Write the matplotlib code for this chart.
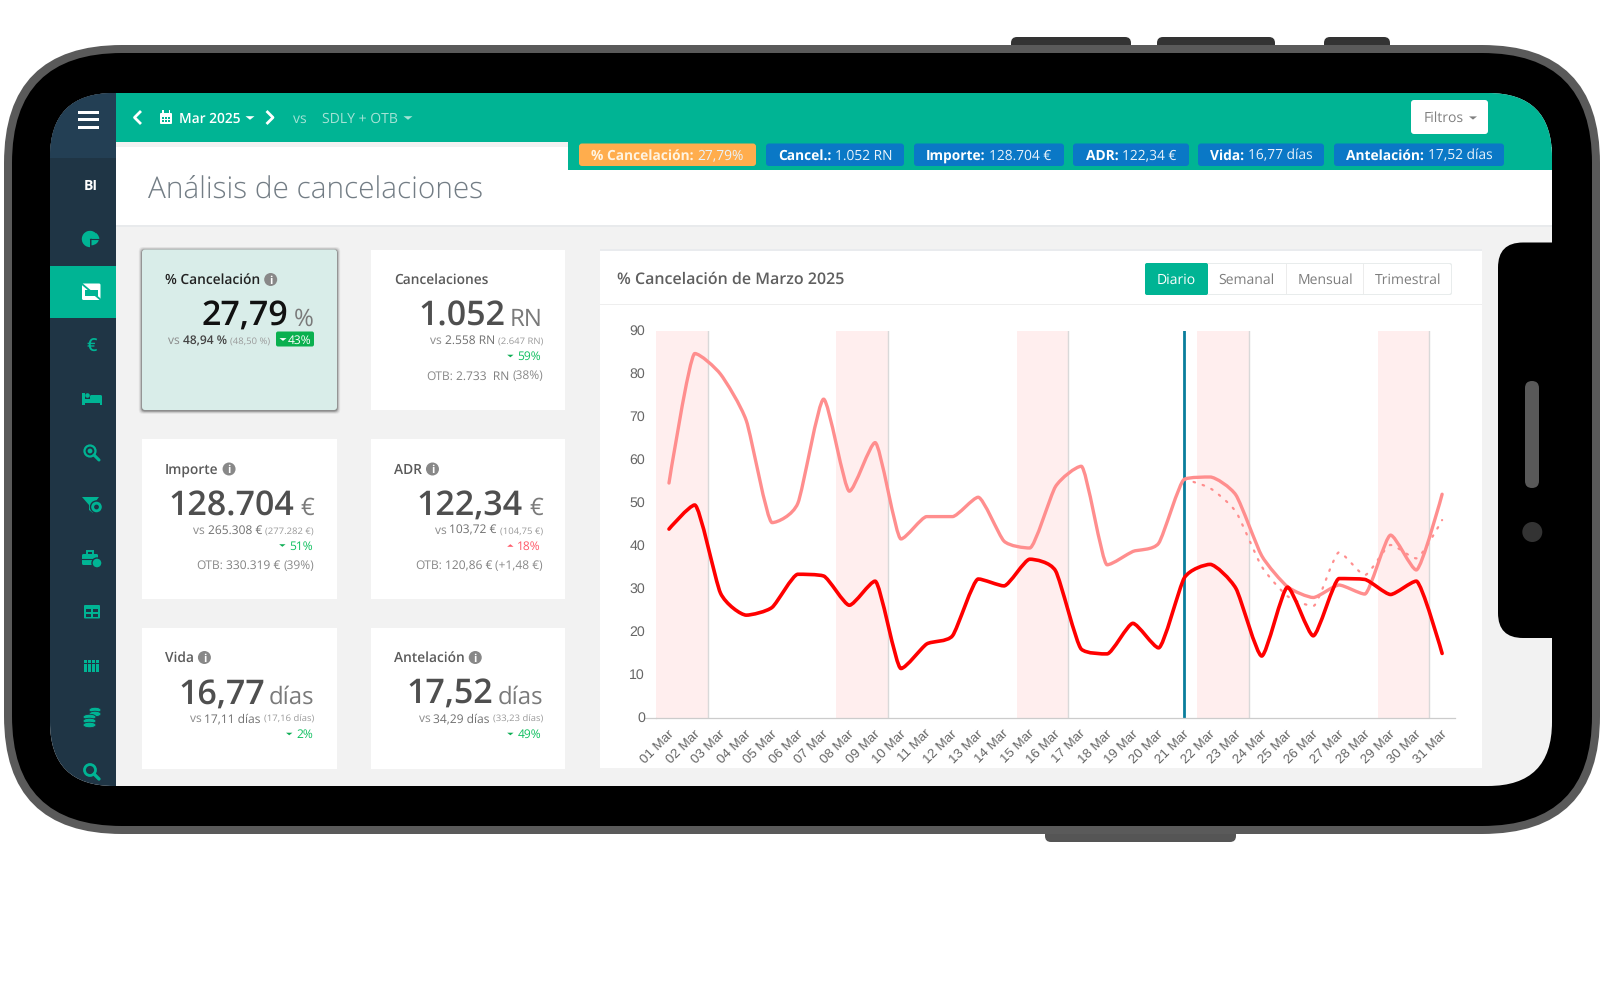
#!/usr/bin/env python3

"""
Phone mockup of the cancellations dashboard with the daily % chart
"""

import matplotlib
matplotlib.use("Agg")
import matplotlib.pyplot as plt
from matplotlib.patches import FancyBboxPatch, Rectangle, Circle, Polygon, Wedge, Ellipse, PathPatch
from matplotlib.path import Path
from matplotlib.transforms import ScaledTranslation

# Chart data
days = ["%02d Mar" % d for d in range(1, 32)]
cancel_actual = [43.9, 49.5, 29.0, 23.9, 25.7, 33.4, 33.0, 26.2, 31.8, 11.5, 17.2, 19.1, 32.3, 30.7, 36.9, 34.2,
                 16.0, 14.9, 22.0, 16.3, 32.6, 35.7, 30.1, 14.4, 30.4, 19.1, 32.4, 32.2, 28.7, 31.8, 15.0]
cancel_sdly = [54.6, 84.7, 79.9, 69.1, 45.4, 49.9, 74.1, 52.7, 64.0, 41.6, 46.8, 46.8, 51.3, 41.1, 39.5, 53.8,
               58.5, 35.6, 38.7, 40.6, 55.5, 56.0, 51.8, 37.7, 30.5, 28.0, 30.9, 28.8, 42.5, 34.4, 52.0]
otb_start = 20
cancel_otb = [55.5, 53.4, 47.9, 35.2, 28.3, 26.0, 38.5, 33.2, 40.2, 37.1, 46.0]
weekends = [(0, 1), (7, 8), (14, 15), (21, 22), (28, 29)]
today_idx = 20
yticks = [0, 10, 20, 30, 40, 50, 60, 70, 80, 90]

# KPI cards
card_titles = ["% Cancelación", "Cancelaciones", "Importe", "ADR", "Vida", "Antelación"]
card_values = ["27,79", "1.052", "128.704", "122,34", "16,77", "17,52"]
card_units = ["%", "RN", "€", "€", "días", "días"]
card_vs = ["48,94 %", "2.558 RN", "265.308 €", "103,72 €", "17,11 días", "34,29 días"]
card_prev = ["(48,50 %)", "(2.647 RN)", "(277.282 €)", "(104,75 €)", "(17,16 días)", "(33,23 días)"]
card_pct = ["43%", "59%", "51%", "18%", "2%", "49%"]
card_otb = [None, ("2.733  RN", "(38%)"), ("330.319 €", "(39%)"), ("120,86 €", "(+1,48 €)"), None, None]

# Top pills
pill_heads = ["% Cancelación:", "Cancel.:", "Importe:", "ADR:", "Vida:", "Antelación:"]
pill_vals = [" 27,79%", " 1.052 RN", " 128.704 €", " 122,34 €", " 16,77 días", " 17,52 días"]
toggle_labels = ["Diario", "Semanal", "Mensual", "Trimestral"]

GREEN = "#00b494"
DARK = "#1f3545"
GREY_BG = "#f2f2f2"
UP_RED = "#ff5a6a"
DOWN_GREEN = "#10c060"
FONT = "Open Sans"

plt.rcParams["font.family"] = [FONT, "DejaVu Sans"]
plt.rcParams["text.hinting"] = "no_hinting"

fig = plt.figure(figsize=(16, 9.97), dpi=100)
ax = fig.add_axes([0, 0, 1, 1])
ax.set_xlim(0, 1600)
ax.set_ylim(997, 0)
ax.axis("off")
renderer = fig.canvas.get_renderer()


def box(x0, y0, x1, y1, color, radius=0, zorder=2, clip=None, **kw):
    if radius:
        p = FancyBboxPatch((x0, y0), x1 - x0, y1 - y0, boxstyle="round,pad=0,rounding_size=%g" % radius,
                           fc=color, ec="none", zorder=zorder, **kw)
    else:
        p = Rectangle((x0, y0), x1 - x0, y1 - y0, fc=color, ec="none", zorder=zorder, **kw)
    ax.add_patch(p)
    if clip is not None:
        p.set_clip_path(clip)
    return p


def label(x, y, s, color="#555555", size=13, weight="normal", ha="left", va="baseline", zorder=6, **kw):
    # size is given in pixels
    return ax.text(x, y, s, color=color, fontsize=size * 0.72, fontweight=weight, ha=ha, va=va,
                   zorder=zorder, **kw)


def runs_right(x, y, runs):
    for s, color, size, weight in reversed(runs):
        t = label(x, y, s, color, size, weight, ha="right")
        x -= t.get_window_extent(renderer).width + 3


def runs_left(x, y, runs):
    for s, color, size, weight in runs:
        t = label(x, y, s.strip(), color, size, weight)
        x += t.get_window_extent(renderer).width + size * 0.27


def caret(x, y, color, w=4, up=False, zorder=7):
    h = w * 0.8 * (-1 if up else 1)
    ax.add_patch(Polygon([(x - w, y - h / 2), (x + w, y - h / 2), (x, y + h / 2)], fc=color, ec="none", zorder=zorder))


def spline_path(x, y, s=4.0):
    # nearly straight segments with softened corners, as in the dashboard chart
    verts = [(x[0], y[0])]
    codes = [Path.MOVETO]
    conts = []
    n = len(x)
    for i in range(n):
        if i == 0 or i == n - 1:
            conts.append((x[i], y[i], x[i], y[i]))
            continue
        lx = (s * x[i] + x[i - 1]) / (s + 1)
        ly = (s * y[i] + y[i - 1]) / (s + 1)
        rx = (s * x[i] + x[i + 1]) / (s + 1)
        ry = (s * y[i] + y[i + 1]) / (s + 1)
        corr = (ry - ly) * (rx - x[i]) / (rx - lx) + y[i] - ry
        ly += corr
        ry += corr
        hi = max(y[i - 1], y[i])
        lo = min(y[i - 1], y[i])
        if ly > hi:
            ly = hi
            ry = 2 * y[i] - ly
        elif ly < lo:
            ly = lo
            ry = 2 * y[i] - ly
        hi = max(y[i + 1], y[i])
        lo = min(y[i + 1], y[i])
        if ry > hi:
            ry = hi
            ly = 2 * y[i] - ry
        elif ry < lo:
            ry = lo
            ly = 2 * y[i] - ry
        conts.append((lx, ly, rx, ry))
    for i in range(1, n):
        verts += [(conts[i - 1][2], conts[i - 1][3]), (conts[i][0], conts[i][1]), (x[i], y[i])]
        codes += [Path.CURVE4] * 3
    return Path(verts, codes)


# Phone body
for bx0, bx1 in [(1011, 1131), (1157, 1275), (1324, 1390)]:
    box(bx0, 37, bx1, 55, "#333333", radius=6, zorder=0)
box(1045, 820, 1236, 842, "#555555", radius=6, zorder=0)
box(4, 45, 1600, 834, "#5a5a5a", radius=118, zorder=1)
box(12, 53, 1592, 826, "#000000", radius=110, zorder=1)

# Screen
screen = box(50, 93, 1552, 786, GREY_BG, radius=64, zorder=2)
box(116, 147, 1552, 226, "#ffffff", zorder=2.1, clip=screen)
box(116, 225, 1552, 226.5, "#e8eaec", zorder=2.2, clip=screen)

# Sidebar
box(50, 93, 116, 786, DARK, zorder=2.5, clip=screen)
box(50, 93, 116, 158, "#233f54", zorder=2.6, clip=screen)
box(50, 266, 116, 318, GREEN, zorder=2.7, clip=screen)
for yy in (112.3, 120, 127.7):
    box(78, yy - 1.5, 99, yy + 1.5, "#ffffff", zorder=5)
label(91, 190.5, "BI", "#ffffff", 14, "bold", ha="center")

ic = GREEN
# pie, three slices with thin gaps
ax.add_patch(Wedge((90, 239), 8.2, 90, 345, fc=ic, ec="none", zorder=5))
ax.add_patch(Wedge((91.5, 237.5), 7.8, 0, 90, fc=ic, ec="none", zorder=5))
ax.add_patch(Wedge((92, 239), 7.2, 305, 358, fc=ic, ec="none", zorder=5))
ax.plot([90, 98.5], [239, 239], color=DARK, lw=0.8, zorder=5.1)
# inbox (active)
box(82, 283.5, 100.5, 300, "#ffffff", radius=1.5, zorder=5)
box(85, 290, 97.5, 295.5, GREEN, zorder=5.1)
ax.plot([82, 101], [284, 300], color=GREEN, lw=1.3, zorder=5.2)
# euro
label(91.5, 351.5, "€", ic, 18, "semibold", ha="center")
# bed
box(82, 392.5, 85, 405, ic, zorder=5)
box(82, 399, 102, 403, ic, zorder=5)
box(90, 395, 102, 400, ic, radius=1.5, zorder=5)
box(99.5, 399, 102, 405, ic, zorder=5)
ax.add_patch(Circle((87.5, 395.5), 2.3, fc=ic, ec="none", zorder=5))
# search with coin
ax.add_patch(Circle((90, 451), 5.5, fc="none", ec=ic, lw=1.6, zorder=5))
ax.add_patch(Circle((90, 451), 2.4, fc=ic, ec="none", zorder=5))
ax.plot([94, 99], [455, 460], color=ic, lw=2.2, zorder=5, solid_capstyle="round")
# funnel with coin
ax.add_patch(Polygon([(82, 497), (99, 497), (93, 505), (93, 513), (89, 510), (89, 505)], fc=ic, ec="none", zorder=5))
ax.add_patch(Circle((96.5, 507), 6, fc=ic, ec=DARK, lw=1, zorder=5.1))
ax.add_patch(Circle((96.5, 507), 2.4, fc=DARK, ec="none", zorder=5.2))
# briefcase with clock
box(82, 554, 98, 565, ic, radius=1.5, zorder=5)
ax.add_patch(Rectangle((87, 551), 6, 3.5, fc="none", ec=ic, lw=1.4, zorder=5))
ax.plot([82, 98], [558.5, 558.5], color=DARK, lw=0.8, zorder=5.1)
ax.add_patch(Circle((97, 563), 5, fc=ic, ec=DARK, lw=1, zorder=5.2))
# table
box(84, 605, 100, 618.5, ic, radius=1, zorder=5)
for (tx, ty) in [(86, 608.5), (92.7, 608.5), (86, 613.7), (92.7, 613.7)]:
    box(tx, ty, tx + 5.2, ty + 3, DARK, zorder=5.1)
# grid
for i in range(4):
    for j in range(3):
        box(84 + i * 4, 659.5 + j * 4.4, 84 + i * 4 + 3.2, 659.5 + j * 4.4 + 3.6, ic, zorder=5)
# coins
for (cx, cy, rw) in [(95, 710, 6), (95, 714, 6), (89.5, 717, 6.5), (89.5, 721, 6.5), (89.5, 725, 6.5)]:
    ax.add_patch(Ellipse((cx, cy), rw * 2, 5.5, fc=ic, ec=DARK, lw=0.6, zorder=5))
# search
ax.add_patch(Circle((90, 770), 5.5, fc="none", ec=ic, lw=2, zorder=5, clip_on=True))
ax.plot([94, 99], [774, 779], color=ic, lw=2.4, zorder=5, solid_capstyle="round")

# Header bar
box(116, 93, 1552, 142.5, GREEN, zorder=2.4, clip=screen)
box(568, 142, 1552, 170, GREEN, zorder=2.4, clip=screen)
ax.plot([140, 134.5, 140], [112, 117.5, 123], color="#ffffff", lw=2, zorder=6)
ax.plot([267.5, 273, 267.5], [112, 117.5, 123], color="#ffffff", lw=2, zorder=6)
box(160, 113, 172, 124, "#ffffff", radius=1, zorder=6)
box(162, 110.5, 163.5, 114, "#ffffff", zorder=6)
box(168.5, 110.5, 170, 114, "#ffffff", zorder=6)
for gx in (162, 165.2, 168.4):
    for gy in (117, 120):
        box(gx, gy, gx + 1.8, gy + 1.8, GREEN, zorder=6.1)
label(179, 122.5, "Mar 2025", "#ffffff", 13.7, "semibold")
caret(250, 118, "#ffffff", 4.5)
label(293, 122.5, "vs", "#a5e3d6", 14)
label(322.5, 122.5, "SDLY + OTB", "#a5e3d6", 14)
caret(408, 118, "#a5e3d6", 4.5)
box(1411, 100, 1488, 134, "#ffffff", radius=3, zorder=6)
label(1443.5, 122, "Filtros", "#808080", 14, ha="center", zorder=7)
caret(1473, 118, "#808080", 4)

# Pills
pill_x = [(579, 756), (766, 904), (914, 1064), (1073, 1189), (1198, 1324), (1334, 1504)]
pill_text_x = [591, 778, 926, 1086, 1210, 1346]
for i, (x0, x1) in enumerate(pill_x):
    col = "#ffad4d" if i == 0 else "#0a78c6"
    box(x0, 143.5, x1, 166, col, radius=3, zorder=5)
    tcol = "#fff4e2" if i == 0 else "#ffffff"
    runs_left(pill_text_x[i], 159.5, [(pill_heads[i], tcol, 13.7, "bold"), (pill_vals[i], "#e9f3fb", 13.7, "normal")])

label(148, 199, "Análisis de cancelaciones", "#737d85", 29.8, "light")

# Cards
card_x = [(142, 337), (371, 565)]
card_y = [(249.5, 410), (439, 599), (627.5, 768.5)]
value_right = [288, 505, 294.5, 523, 265, 493]
rows = [0, 0, 1, 1, 2, 2]
for i in range(6):
    x0, x1 = card_x[i % 2]
    y0, y1 = card_y[rows[i]]
    if i == 0:
        for grow, alpha in [(3.2, 0.05), (2.4, 0.08), (1.6, 0.14), (0.8, 0.22)]:
            box(x0 - grow, y0 - grow + 0.7, x1 + grow, y1 + grow + 0.7, "#000000", radius=4, zorder=3, alpha=alpha)
        box(x0, y0, x1, y1, "#d9ede9", radius=3, zorder=3.1)
    else:
        box(x0, y0, x1, y1, "#ffffff", zorder=3)
    active = i == 0
    tcol = "#222222" if active else "#5a5a5a"
    t = label(x0 + 23, y0 + 34.5, card_titles[i], tcol, 13.8, "semibold")
    if i != 1:
        tw = t.get_window_extent(renderer).width
        cx = x0 + 23 + tw + 10.5
        ax.add_patch(Circle((cx, y0 + 30), 6.5, fc="#888888", ec="none", zorder=6))
        label(cx, y0 + 34, "i", "#ffffff", 11, "bold", ha="center", zorder=7)

    right = x1 - 23
    base = y0 + 76.2
    vcol = "#111111" if active else "#4f4f4f"
    label(value_right[i], base, card_values[i], vcol, 34, "semibold", ha="right")
    edge = right + 1 if i % 2 else right
    label(edge, base, card_units[i], "#7a7a7a", 24, ha="right")

    yy = base + 18.3
    gcol = "#8a8a8a"
    vs_right = 270 if i == 0 else edge
    vs_col = "#444444" if active else "#707070"
    runs_right(vs_right, yy, [("vs", gcol, 12, "normal"), (card_vs[i], vs_col, 12, "semibold" if active else "normal"),
                              (card_prev[i], "#9a9a9a", 9.5, "normal")])
    if i == 0:
        box(276, 331.5, 314, 346.5, "#0ab04f", radius=2, zorder=5)
        caret(283, 339.5, "#ffffff", 3.5)
        label(311.5, 344, card_pct[i], "#ffffff", 12, ha="right", zorder=7)
    else:
        py = yy + 16
        up = card_titles[i] == "ADR"
        pc = UP_RED if up else DOWN_GREEN
        t = label(right - 1, py, card_pct[i], pc, 12, ha="right")
        caret(right - 1 - t.get_window_extent(renderer).width - 7, py - 4, "#0fae55" if not up else UP_RED, 3.2, up=up)
    if card_otb[i] is not None:
        oy = yy + 35.5
        a, b = card_otb[i]
        runs_right(edge, oy, [("OTB:", gcol, 12, "normal"), (a, "#808080", 12, "normal"), (b, gcol, 12, "normal")])

# Chart panel
box(600, 250, 1482, 768, "#ffffff", zorder=3)
box(600, 249, 1482, 250.5, "#e9ebee", zorder=3.1)
box(600, 304, 1482, 305, "#eeeeee", zorder=3.1)
label(617, 284, "% Cancelación de Marzo 2025", "#5f5f5f", 16, "semibold")

toggle_edges = [1145, 1208, 1285.5, 1363, 1452]
box(1145, 263, 1452, 295, "#e8ecec", radius=2, zorder=4)
box(1146, 264, 1451, 294, "#ffffff", radius=2, zorder=4.1)
box(1145, 263, 1208, 295, GREEN, radius=2, zorder=4.2)
for i, name in enumerate(toggle_labels):
    mid = (toggle_edges[i] + toggle_edges[i + 1]) / 2
    if i > 1:
        box(toggle_edges[i], 264, toggle_edges[i] + 1, 294, "#ececec", zorder=4.3)
    label(mid + (1 if i > 1 else 0), 284, name, "#ffffff" if i == 0 else "#7d7d7d", 14, ha="center")

# The chart itself
PX_L, PX_R, PX_T, PX_B = 656.1, 1455.0, 330.7, 718.0
cax = fig.add_axes([PX_L / 1600, 1 - PX_B / 997, (PX_R - PX_L) / 1600, (PX_B - PX_T) / 997], zorder=5)
cax.patch.set_alpha(0)
cax.set_xlim(-0.5, 30.5)
cax.set_ylim(0, 90)
for side in ("top", "right", "left"):
    cax.spines[side].set_visible(False)
cax.spines["bottom"].set_color("#cccccc")
cax.spines["bottom"].set_linewidth(0.9)

for a, b in weekends:
    cax.axvspan(a - 0.5, b + 0.5, fc="#ffeeee", ec="none", zorder=1)
    cax.axvline(b + 0.5, color="#d9d9d9", lw=1.0, zorder=1.5)
cax.axvline(today_idx, color="#0a7d9c", lw=2.0, zorder=2)

xs = list(range(len(days)))
cax.add_patch(PathPatch(spline_path(xs, cancel_sdly), fc="none", ec="#ff8e8e", lw=2.4, capstyle="round", joinstyle="round", zorder=3))
otb_xs = xs[otb_start:]
cax.add_patch(PathPatch(spline_path(otb_xs, cancel_otb), fc="none", ec="#ff8e8e", lw=1.6, ls=(0, (0.7, 3.6)), capstyle="round", zorder=3))
cax.add_patch(PathPatch(spline_path(xs, cancel_actual), fc="none", ec="#ff0000", lw=2.6, capstyle="round", joinstyle="round", zorder=4))

cax.set_yticks(yticks)
cax.set_yticklabels([str(v) for v in yticks], fontfamily="Liberation Sans", fontsize=10.2, color="#666666")
cax.tick_params(axis="y", length=0, pad=8)
cax.set_xticks(xs)
cax.set_xticklabels(days, rotation=45, ha="right", rotation_mode="anchor", fontfamily="Liberation Sans", fontsize=9.6, color="#666666")
cax.tick_params(axis="x", length=0, pad=7)
up_shift = ScaledTranslation(0, 1 / 100, fig.dpi_scale_trans)
for lbl in cax.get_yticklabels():
    lbl.set_transform(lbl.get_transform() + up_shift)
left_shift = ScaledTranslation(-1.5 / 100, 0, fig.dpi_scale_trans)
for lbl in cax.get_xticklabels():
    lbl.set_transform(lbl.get_transform() + left_shift)
# little tick left of the zero line
cax.plot([-0.945, -0.5], [0, 0], color="#cccccc", lw=0.9, clip_on=False, zorder=1)

# Notch
box(1498, 242.5, 1590, 638, "#000000", radius=25, zorder=8)
box(1525, 381, 1539, 488, "#595959", radius=7, zorder=9)
ax.set_zorder(1)
nax = fig.add_axes([0, 0, 1, 1], zorder=9)
nax.set_xlim(0, 1600)
nax.set_ylim(997, 0)
nax.axis("off")
nax.add_patch(Circle((1532.3, 532), 10, fc="#333333", ec="none"))

plt.savefig("out.png", dpi=100)
